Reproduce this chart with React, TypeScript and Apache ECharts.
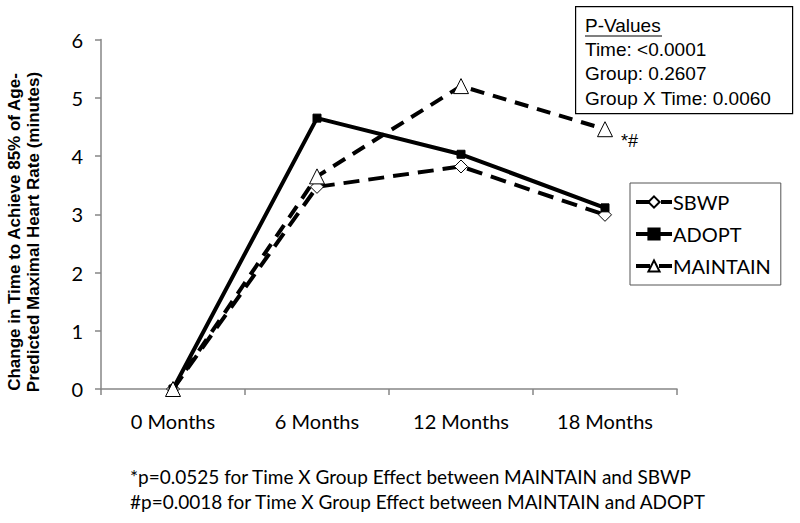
import React, { useEffect, useRef } from "react";
import * as echarts from "echarts";

const categories = ["0 Months", "6 Months", "12 Months", "18 Months"];
const sbwp = [0, 3.47, 3.82, 2.99];
const adopt = [0, 4.65, 4.03, 3.11];
const maintain = [0, 3.65, 5.2, 4.46];
const yTicks = [0, 1, 2, 3, 4, 5, 6];
const pValueLines = ["Time: <0.0001", "Group: 0.2607", "Group X Time: 0.0060"];
const footnotes = [
  "*p=0.0525 for Time X Group Effect between MAINTAIN and SBWP",
  "#p=0.0018 for Time X Group Effect between MAINTAIN and ADOPT",
];
const yTitle = ["Change in Time to Achieve 85% of Age-", "Predicted Maximal Heart Rate (minutes)"];

export default function App() {
  const ref = useRef<HTMLDivElement>(null);
  useEffect(() => {
    if (!ref.current) return;
    const chart = echarts.init(ref.current, undefined, { renderer: "svg" });
    const calibri = "Lato, 'Open Sans', sans-serif";
    const arial = "'Liberation Sans', Arial, sans-serif";
    chart.setOption({
      animation: false,
      backgroundColor: "#ffffff",
      grid: { left: 101, right: 123, top: 39.5, bottom: 134, containLabel: false },
      xAxis: {
        type: "category",
        data: categories,
        boundaryGap: true,
        axisLine: { lineStyle: { color: "#868686", width: 1.5 } },
        axisTick: { show: true, length: 6, lineStyle: { color: "#868686", width: 1.5 } },
        axisLabel: { color: "#000", fontSize: 20, fontFamily: calibri, margin: 22 },
        splitLine: { show: false },
      },
      yAxis: {
        type: "value",
        min: yTicks[0],
        max: yTicks[yTicks.length - 1],
        interval: 1,
        axisLine: { show: true, lineStyle: { color: "#868686", width: 1.5 } },
        axisTick: { show: true, length: 6, lineStyle: { color: "#868686", width: 1.5 } },
        axisLabel: { color: "#000", fontSize: 20, fontFamily: calibri, margin: 18 },
        splitLine: { show: false },
      },
      legend: {
        orient: "vertical",
        left: 630,
        top: 183,
        width: 139,
        borderColor: "#555",
        borderWidth: 1,
        padding: [9, 10, 9, 4],
        itemGap: 12,
        itemWidth: 36,
        itemHeight: 14,
        lineStyle: { width: 4 },
        textStyle: { color: "#000", fontSize: 20, fontFamily: calibri, padding: [0, 0, 0, -4] },
        data: ["SBWP", "ADOPT", "MAINTAIN"],
      },
      series: [
        {
          name: "SBWP",
          type: "line",
          data: sbwp,
          symbol: "diamond",
          symbolSize: 13,
          itemStyle: { color: "#fff", borderColor: "#000", borderWidth: 1 },
          lineStyle: { color: "#000", width: 4, type: [16, 9] },
          z: 2,
        },
        {
          name: "ADOPT",
          type: "line",
          data: adopt,
          symbol: "rect",
          symbolSize: 8,
          itemStyle: { color: "#000", borderColor: "#000", borderWidth: 1 },
          lineStyle: { color: "#000", width: 4, type: "solid" },
          z: 3,
        },
        {
          name: "MAINTAIN",
          type: "line",
          data: maintain,
          symbol: "triangle",
          symbolSize: 15,
          itemStyle: { color: "#fff", borderColor: "#000", borderWidth: 1 },
          lineStyle: { color: "#000", width: 4, type: [14, 9] },
          z: 4,
        },
      ],
      graphic: [
        {
          type: "rect",
          left: 575,
          top: 6,
          shape: { width: 217, height: 107 },
          style: { fill: "#fff", stroke: "#000", lineWidth: 1.2 },
          z: 10,
        },
        {
          type: "text",
          x: 585,
          y: 25,
          style: { text: "P-Values", font: `19px ${arial}`, fill: "#000", textVerticalAlign: "middle" },
          z: 11,
        },
        {
          type: "line",
          shape: { x1: 585, y1: 36, x2: 662, y2: 36 },
          style: { stroke: "#000", lineWidth: 1.2 },
          z: 11,
        },
        ...pValueLines.map((t, i) => ({
          type: "text",
          x: 585,
          y: 49 + i * 24.5,
          style: { text: t, font: `19px ${arial}`, fill: "#000", textVerticalAlign: "middle" },
          z: 11,
        })),
        {
          type: "text",
          x: 621,
          y: 141,
          style: { text: "*#", font: `18px ${arial}`, fill: "#000", textVerticalAlign: "middle" },
          z: 11,
        },
        {
          type: "text",
          x: 24,
          y: 232,
          rotation: Math.PI / 2,
          style: {
            text: yTitle.join("\n"),
            font: `bold 17px ${arial}`,
            lineHeight: 19,
            fill: "#000",
            textAlign: "center",
            textVerticalAlign: "middle",
          },
        },
        ...footnotes.map((t, i) => ({
          type: "text",
          x: 130,
          y: 476 + i * 25,
          style: { text: t, font: `19px ${calibri}`, fill: "#000", textVerticalAlign: "middle" },
        })),
      ],
    });
    return () => chart.dispose();
  }, []);
  return <div ref={ref} style={{ width: 800, height: 523, position: "absolute", left: 0, top: 0 }} />;
}
